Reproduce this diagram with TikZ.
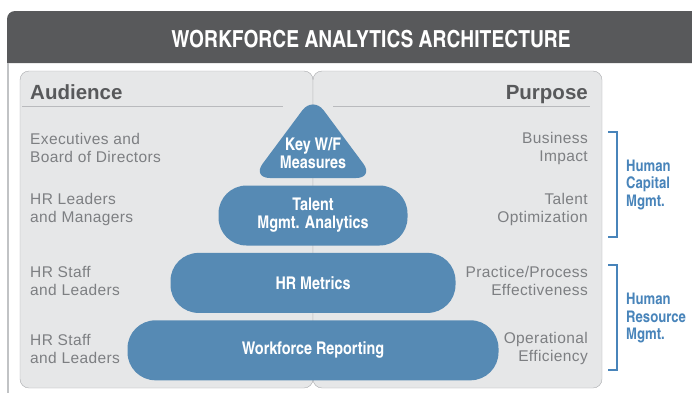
\documentclass[tikz,border=0pt]{standalone}
\usepackage{fontspec}
\setmainfont{Liberation Sans}[LetterSpace=2.5]
\newfontfamily\headfont{Liberation Sans}
\newfontfamily\cnfont{texgyreheroscn}[Extension=.otf, UprightFont=*-regular, BoldFont=*-bold]
\usetikzlibrary{positioning}
\definecolor{header}{RGB}{88, 89, 91}
\definecolor{panel}{RGB}{230, 231, 232}
\definecolor{edge}{RGB}{167, 169, 172}
\definecolor{greytext}{RGB}{125, 127, 130}
\definecolor{pyr}{RGB}{86, 138, 180}
\definecolor{mgmt}{RGB}{72, 132, 186}

\begin{document}
\begin{tikzpicture}[x=1pt, y=1pt,
  tier/.style={fill=pyr, rounded corners=28pt, minimum height=60pt, inner sep=0pt,
    text=white, align=center, font=\cnfont\bfseries\fontsize{17.5}{18}\selectfont},
  tiertext/.style={text=white, align=center, inner sep=0pt,
    font=\cnfont\bfseries\fontsize{17.5}{18}\selectfont},
  audience/.style={anchor=west, align=left, inner sep=0pt, text=greytext,
    font=\fontsize{15.5}{18}\selectfont},
  purpose/.style={anchor=east, align=right, inner sep=0pt, text=greytext,
    font=\fontsize{15.5}{18}\selectfont},
  head/.style={inner sep=0pt, text=header, font=\headfont\bfseries\fontsize{20.5}{22}\selectfont},
  group/.style={anchor=west, align=left, inner sep=0pt, text=mgmt,
    font=\cnfont\bfseries\fontsize{16}{17.5}\selectfont},
  bracket/.style={draw=mgmt, line width=1.5pt}]

\useasboundingbox (0,0) rectangle (692,-392);

% title bar and frame
\begin{scope}
  \clip (0,0) rectangle (692,-392);
  \fill[header] (7,-63) {[rounded corners=8pt] -- (7,-11) -- (720,-11)} -- (720,-63) -- cycle;
  \draw[edge!70, line width=1.3pt] (8,-63) -- (8,-395);
\end{scope}
\node[text=white, font=\cnfont\bfseries\fontsize{23.5}{25}\selectfont] (title) at (371,-39) {WORKFORCE ANALYTICS ARCHITECTURE};

% two panels, they share the middle line
\filldraw[fill=panel, draw=edge, rounded corners=9pt] (20,-71) rectangle (313,-388);
\filldraw[fill=panel, draw=edge, rounded corners=9pt] (313,-71) rectangle (602,-388);
\draw[edge!80, line width=0.8pt] (22,-106) -- (283,-106);
\draw[edge!80, line width=0.8pt] (333,-106) -- (590,-106);

\node[head, anchor=base west] (aud) at (30,-99) {Audience};
\node[head, anchor=base east] (purp) at (588,-99) {Purpose};

% pyramid
\fill[pyr, rounded corners=18pt] (313,-96) -- (374,-178) -- (252,-178) -- cycle;
\node[tiertext] (keywf) at (313,-153) {Key W/F\\Measures};
\node[tier, minimum width=189pt] (talent) at (313,-215.5) {Talent\\Mgmt. Analytics};
\node[tier, minimum width=285pt, below=7pt of talent] (metrics) {HR Metrics};
\node[tier, minimum width=371pt, below=7pt of metrics] (reporting) {Workforce Reporting};

% who looks at each level
\node[audience] (execs) at (30,-148) {Executives and\\Board of Directors};
\node[audience] (leaders) at (30,-209) {HR Leaders\\and Managers};
\node[audience] (staffa) at (30,-281) {HR Staff\\and Leaders};
\node[audience] (staffb) at (30,-349) {HR Staff\\and Leaders};

% what each level is for
\node[purpose] (impact) at (588,-148.5) {Business\\Impact};
\node[purpose] (optim) at (588,-209) {Talent\\Optimization};
\node[purpose] (practice) at (588,-280.5) {Practice/Process\\Effectiveness};
\node[purpose] (operat) at (588,-348.5) {Operational\\Efficiency};

% groupings on the right
\draw[bracket] (608,-132) -| (617,-237) -- (608,-237);
\draw[bracket] (608,-265) -| (617,-370) -- (608,-370);
\node[group] (hcm) at (626,-184.5) {Human\\Capital\\Mgmt.};
\node[group] (hrm) at (626,-318) {Human\\Resource\\Mgmt.};

\end{tikzpicture}
\end{document}
